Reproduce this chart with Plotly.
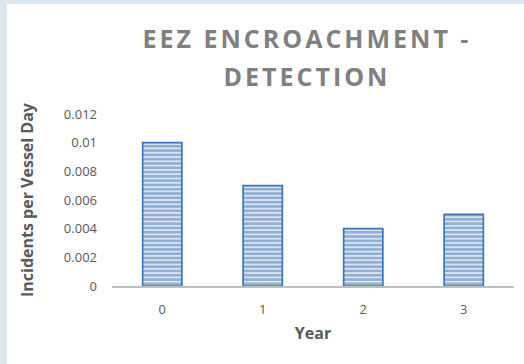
import plotly.graph_objects as go

# Chart data
years = ["0", "1", "2", "3"]
incidents = [0.010, 0.007, 0.004, 0.005]
y_ticks = [0, 0.002, 0.004, 0.006, 0.008, 0.01, 0.012]
y_tick_labels = ["0", "0.002", "0.004", "0.006", "0.008", "0.01", "0.012"]

W, H = 524, 364
ml, mr, mt, mb = 112, 10, 114, 78
pw, ph = W - ml - mr, H - mt - mb

def px_x(p):
    return (p - ml) / pw

def px_y(p):
    return (H - mb - p) / ph

BORDER = "#dce6ee"

fig = go.Figure(
    go.Bar(
        x=years,
        y=incidents,
        width=0.39,
        marker=dict(
            color="#ffffff",
            line=dict(color="#3a76bb", width=1.7),
            pattern=dict(
                shape="-",
                fgcolor="#3d7bc3",
                bgcolor="#dfe5ec",
                size=4.3,
                solidity=0.6,
                fillmode="overlay",
            ),
        ),
        hoverinfo="x+y",
    )
)

fig.update_layout(
    width=W,
    height=H,
    margin=dict(l=ml, r=mr, t=mt, b=mb),
    paper_bgcolor="#ffffff",
    plot_bgcolor="#ffffff",
    showlegend=False,
    title=dict(
        text="<b>EEZ ENCROACHMENT -<br>DETECTION</b>",
        x=px_x(307),
        xref="paper",
        xanchor="center",
        y=1 - 47.5 / H,
        yanchor="middle",
        font=dict(family="Open Sans, DejaVu Sans, sans-serif", size=25, color="#808080"),
    ),
    shapes=[
        # thin light-blue frame along the left and top edges
        dict(type="rect", xref="paper", yref="paper",
             x0=px_x(0), x1=px_x(7), y0=px_y(H), y1=px_y(0),
             fillcolor=BORDER, line=dict(width=0), layer="below"),
        dict(type="rect", xref="paper", yref="paper",
             x0=px_x(0), x1=px_x(W), y0=px_y(4), y1=px_y(0),
             fillcolor=BORDER, line=dict(width=0), layer="below"),
    ],
    xaxis=dict(
        type="category",
        range=[-0.5, 3.5],
        showline=True,
        linecolor="#bfbfbf",
        linewidth=1.8,
        ticks="",
        tickfont=dict(family="Open Sans, sans-serif", size=13, color="#595959"),
        ticklabelstandoff=10,
        title=dict(
            text="<b>Year</b>",
            font=dict(family="Open Sans, sans-serif", size=16, color="#595959"),
            standoff=11,
        ),
        showgrid=False,
        zeroline=False,
    ),
    yaxis=dict(
        range=[0, 0.012],
        tickvals=y_ticks,
        ticktext=y_tick_labels,
        showline=False,
        showgrid=False,
        zeroline=False,
        ticks="",
        tickfont=dict(family="Open Sans, sans-serif", size=13, color="#595959"),
        ticklabelstandoff=14,
        title=dict(
            text="<b>Incidents per Vessel Day</b>",
            font=dict(family="Open Sans, sans-serif", size=16, color="#595959"),
            standoff=26,
        ),
    ),
)

# Page without margins; wide letter spacing and looser line spacing for the title
post = """
document.documentElement.style.background = '#ffffff';
document.body.style.margin = '0';
document.body.style.background = '#ffffff';
var gd = document.getElementById('{plot_id}');
var t = gd.querySelector('.gtitle');
if (t) {
  t.style.letterSpacing = '3px';
  var lines = t.querySelectorAll('tspan.line');
  if (lines.length > 1) { lines[1].setAttribute('dy', '1.52em'); }
}
"""

fig.write_html("out.html", post_script=post)
